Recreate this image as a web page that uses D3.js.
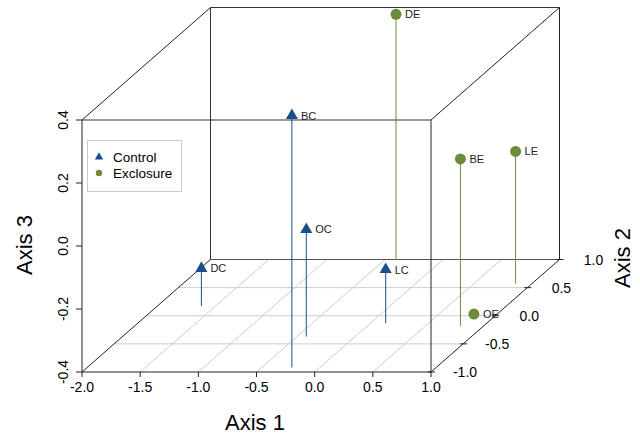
<!DOCTYPE html>
<meta charset="utf-8">
<script src="https://d3js.org/d3.v7.min.js"></script>
<style>
  body { margin: 0; background: #fff; }
  svg { font-family: "Liberation Sans", Arial, sans-serif; }
</style>
<div id="chart"></div>
<script>
    // site labels and ordination scores
    const sites = ["DC", "BC", "OC", "LC", "DE", "BE", "LE", "OE"];
    const treatment = ["Control", "Control", "Control", "Control", "Exclosure", "Exclosure", "Exclosure", "Exclosure"];
    const axis1 = [-1.62, -0.24, -0.42, 0.13, -0.40, 0.80, 0.86, 0.80];
    const axis2 = [0.17, -0.92, -0.37, -0.13, 0.99, -0.18, 0.57, 0.03];
    const axis3 = [-0.28, 0.40, -0.06, -0.23, 0.38, 0.13, 0.02, -0.40];

    const xTicks = [-2.0, -1.5, -1.0, -0.5, 0.0, 0.5, 1.0];
    const yTicks = [-1.0, -0.5, 0.0, 0.5, 1.0];
    const zTicks = [-0.4, -0.2, 0.0, 0.2, 0.4];
    const groups = ["Control", "Exclosure"];

    const width = 640, height = 436;

    const svg = d3.select("#chart")
                .append("svg")
                .attr("width", width)
                .attr("height", height);

    // front face scales + depth fraction for axis 2
    const x = d3.scaleLinear().domain([-2, 1]).range([82, 431]);
    const z = d3.scaleLinear().domain([-0.4, 0.4]).range([372, 120]);
    const depth = d3.scaleLinear().domain([-1, 1]).range([0, 1]);
    const shiftX = 128.5, shiftY = -112.5;

    // project a point into the oblique view
    function px(a, b) { return x(a) + depth(b) * shiftX; }
    function py(b, c) { return z(c) + depth(b) * shiftY; }

    const color = d3.scaleOrdinal()
                    .domain(groups)
                    .range(["#1a4f8b", "#6c8c3c"]);
    const shape = d3.scaleOrdinal()
                    .domain(groups)
                    .range([d3.symbolTriangle, d3.symbolCircle]);

    const seg = (x1, y1, x2, y2, stroke) => svg.append("line")
        .attr("x1", x1).attr("y1", y1).attr("x2", x2).attr("y2", y2)
        .attr("stroke", stroke).attr("stroke-width", 1);

    // grid on the floor
    xTicks.slice(1, -1).forEach(v => seg(px(v, -1), py(-1, -0.4), px(v, 1), py(1, -0.4), "#cccccc"));
    yTicks.slice(1, -1).forEach(v => seg(px(-2, v), py(v, -0.4), px(1, v), py(v, -0.4), "#cccccc"));

    // box: back edges
    seg(px(-2, 1), py(1, 0.4), px(1, 1), py(1, 0.4), "#333");
    seg(px(-2, 1), py(1, 0.4), px(-2, 1), py(1, -0.4), "#333");
    seg(px(-2, 1), py(1, -0.4), px(1, 1), py(1, -0.4), "#555");
    seg(px(1, 1), py(1, 0.4), px(1, 1), py(1, -0.4), "#222");
    // connectors
    seg(px(-2, -1), py(-1, 0.4), px(-2, 1), py(1, 0.4), "#222");
    seg(px(1, -1), py(-1, 0.4), px(1, 1), py(1, 0.4), "#222");
    seg(px(-2, -1), py(-1, -0.4), px(-2, 1), py(1, -0.4), "#222");
    seg(px(1, -1), py(-1, -0.4), px(1, 1), py(1, -0.4), "#222");
    // front face
    seg(px(-2, -1), py(-1, 0.4), px(1, -1), py(-1, 0.4), "#333");
    seg(px(-2, -1), py(-1, 0.4), px(-2, -1), py(-1, -0.4), "#222");
    seg(px(1, -1), py(-1, 0.4), px(1, -1), py(-1, -0.4), "#222");
    seg(px(-2, -1), py(-1, -0.4), px(1, -1), py(-1, -0.4), "#222");

    // axis 1 ticks
    xTicks.forEach(v => {
        seg(x(v), 372, x(v), 377, "#222");
        svg.append("text").attr("x", x(v)).attr("y", 392)
            .attr("text-anchor", "middle").attr("font-size", 14).text(v.toFixed(1));
    });
    // axis 3 ticks
    zTicks.forEach(v => {
        seg(76, z(v), 82, z(v), "#222");
        svg.append("text").attr("transform", `translate(68,${z(v)}) rotate(-90)`)
            .attr("text-anchor", "middle").attr("font-size", 14).text(v.toFixed(1));
    });
    // axis 2 ticks
    yTicks.forEach(v => {
        const ax = px(1, v), ay = py(v, -0.4);
        seg(ax - 3, ay, ax + 4, ay, "#222");
        svg.append("text").attr("x", ax + 34).attr("y", ay + 5)
            .attr("text-anchor", "middle").attr("font-size", 14).text(v.toFixed(1));
    });

    // axis titles
    svg.append("text").attr("x", 255).attr("y", 430)
        .attr("text-anchor", "middle").attr("font-size", 22).text("Axis 1");
    svg.append("text").attr("transform", "translate(32,245) rotate(-90)")
        .attr("text-anchor", "middle").attr("font-size", 22).text("Axis 3");
    svg.append("text").attr("transform", "translate(630,258) rotate(-90)")
        .attr("text-anchor", "middle").attr("font-size", 22).text("Axis 2");

    // points with drop lines to the floor
    const data = sites.map((s, i) => ({site: s, grp: treatment[i], a: axis1[i], b: axis2[i], c: axis3[i]}));

    svg.append("g").selectAll("line")
        .data(data)
        .join("line")
            .attr("x1", d => px(d.a, d.b))
            .attr("x2", d => px(d.a, d.b))
            .attr("y1", d => py(d.b, d.c))
            .attr("y2", d => py(d.b, -0.4))
            .attr("stroke", d => color(d.grp))
            .attr("stroke-width", 1);

    svg.append("g").selectAll("path")
        .data(data)
        .join("path")
            .attr("transform", d => `translate(${px(d.a, d.b)},${py(d.b, d.c)})`)
            .attr("d", d => d3.symbol().type(shape(d.grp)).size(d.grp === "Control" ? 64 : 95)())
            .attr("fill", d => color(d.grp));

    svg.append("g").selectAll("text")
        .data(data)
        .join("text")
            .attr("x", d => px(d.a, d.b) + 9)
            .attr("y", d => py(d.b, d.c) + 4)
            .attr("font-size", 11)
            .attr("fill", "#222")
            .text(d => d.site);

    // legend
    const legend = svg.append("g");
    legend.append("rect").attr("x", 87.5).attr("y", 140.5).attr("width", 94).attr("height", 51)
        .attr("fill", "#fff").attr("stroke", "#cccccc");
    groups.forEach((g, i) => {
        legend.append("path")
            .attr("transform", `translate(99,${157 + i * 16})`)
            .attr("d", d3.symbol().type(shape(g)).size(g === "Control" ? 30 : 32)())
            .attr("fill", color(g));
        legend.append("text").attr("x", 113).attr("y", 162 + i * 16)
            .attr("font-size", 13.5).text(g);
    });
</script>
